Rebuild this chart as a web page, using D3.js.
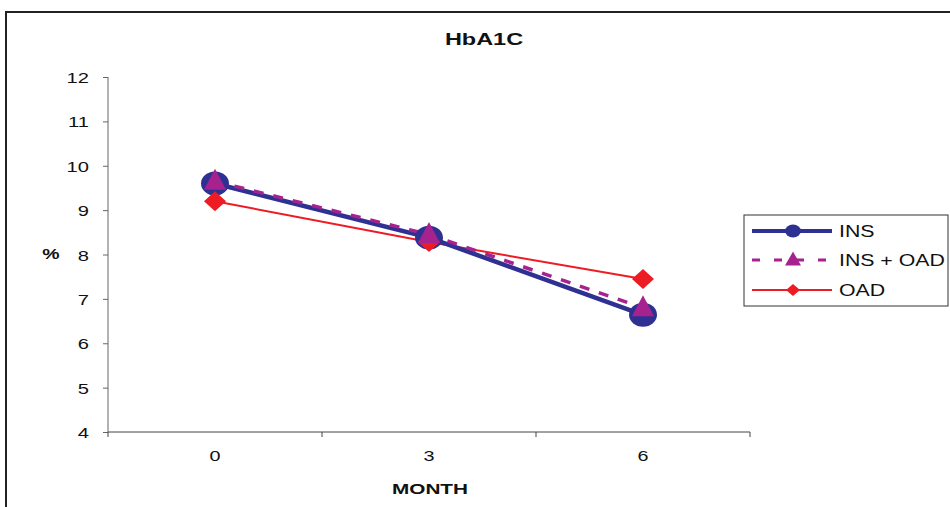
<!DOCTYPE html>
<html><head><meta charset="utf-8">
<script src="https://cdn.jsdelivr.net/npm/d3@7"></script>
<style>body{margin:0;background:#fff}svg{display:block;font-family:"Liberation Sans",Arial,sans-serif}</style>
</head><body><svg id="c" width="950" height="507"></svg>
<script>
const months = ["0","3","6"];
const yTicks = [4,5,6,7,8,9,10,11,12];
const insValues = [9.6, 8.38, 6.64];
const insOadValues = [9.65, 8.45, 6.8];
const oadValues = [9.2, 8.28, 7.45];
const seriesNames = ["INS","INS + OAD","OAD"];

const svg = d3.select("#c");
function stretch(sel, k){
  sel.each(function(){
    const w = this.getComputedTextLength();
    this.setAttribute("textLength", (w*k).toFixed(1));
    this.setAttribute("lengthAdjust","spacingAndGlyphs");
  });
}
// outer frame
svg.append("path").attr("d","M6,507 V12 H950").attr("fill","none").attr("stroke","#222").attr("stroke-width",2);

const x = d3.scaleBand().domain(months).range([108,750]).padding(0);
const y = d3.scaleLinear().domain([4,12]).range([432,77]);

const title = svg.append("text").attr("x",484).attr("y",45).attr("text-anchor","middle").attr("font-weight","bold").attr("font-size",17).attr("fill","#111").text("HbA1C");
stretch(title, 1.38);

const yAxis = svg.append("g").attr("transform","translate(108,0)")
  .call(d3.axisLeft(y).tickValues(yTicks).tickSize(5).tickPadding(14).tickFormat(d3.format("d")));
yAxis.select(".domain").attr("stroke","#666").attr("d","M0,77V432");
yAxis.selectAll("line").attr("stroke","#666");
yAxis.selectAll("text").attr("font-size",15.5).attr("fill","#111").attr("dy","0.36em").attr("font-family","Liberation Sans, Arial, sans-serif");
stretch(yAxis.selectAll("text"), 1.3);

const xAxis = svg.append("g").attr("transform","translate(0,432)")
  .call(d3.axisBottom(x).tickSize(0).tickPadding(18));
xAxis.select(".domain").attr("stroke","#444").attr("d","M108,0H750");
xAxis.selectAll("text").attr("font-size",15.5).attr("fill","#111").attr("y",29).attr("dy",0).attr("font-family","Liberation Sans, Arial, sans-serif");
stretch(xAxis.selectAll("text"), 1.28);
// boundary ticks between categories
const bounds = months.map(m => x(m)).concat([x(months[months.length-1]) + x.bandwidth()]);
svg.append("g").selectAll("line").data(bounds).join("line")
  .attr("x1",d=>d).attr("x2",d=>d).attr("y1",432).attr("y2",437).attr("stroke","#444");

const pct = svg.append("text").attr("x",51).attr("y",259).attr("text-anchor","middle").attr("font-weight","bold").attr("font-size",15).attr("fill","#111").text("%");
stretch(pct, 1.3);
const mlab = svg.append("text").attr("x",430).attr("y",494).attr("text-anchor","middle").attr("font-weight","bold").attr("font-size",14.5).attr("fill","#111").text("MONTH");
stretch(mlab, 1.43);

const cx = m => x(m) + x.bandwidth()/2;
const line = d3.line().x(d=>cx(d.m)).y(d=>y(d.v));
const mk = vals => months.map((m,i)=>({m, v: vals[i]}));

const navy = "#2E3192", purple = "#A6228F", red = "#ED1C24";

// OAD line
svg.append("path").datum(mk(oadValues)).attr("d",line).attr("fill","none").attr("stroke",red).attr("stroke-width",2);
// INS line
svg.append("path").datum(mk(insValues)).attr("d",line).attr("fill","none").attr("stroke",navy).attr("stroke-width",4.5);
// INS+OAD dashed
svg.append("path").datum(mk(insOadValues)).attr("d",line).attr("fill","none").attr("stroke",purple).attr("stroke-width",3.5).attr("stroke-dasharray","10,10");

function diamond(g, px, py, w, h, col){
  g.append("path").attr("d",`M${px-w},${py}L${px},${py-h}L${px+w},${py}L${px},${py+h}Z`).attr("fill",col);
}
function tri(g, px, py, w, h, col){
  g.append("path").attr("d",`M${px},${py-h*0.6}L${px+w},${py+h*0.4}L${px-w},${py+h*0.4}Z`).attr("fill",col);
}
const mg = svg.append("g");
mk(insValues).forEach(d=>mg.append("ellipse").attr("cx",cx(d.m)).attr("cy",y(d.v)).attr("rx",14).attr("ry",12).attr("fill",navy));
mk(oadValues).forEach(d=>diamond(mg,cx(d.m),y(d.v),11,10,red));
mk(insOadValues).forEach(d=>tri(mg,cx(d.m),y(d.v),11,21,purple));

// legend
const lg = svg.append("g");
lg.append("rect").attr("x",744).attr("y",215).attr("width",204).attr("height",91).attr("fill","#fff").attr("stroke","#333").attr("stroke-width",1);
const ly = [231,260,290];
lg.append("line").attr("x1",752).attr("x2",832).attr("y1",ly[0]).attr("y2",ly[0]).attr("stroke",navy).attr("stroke-width",4);
lg.append("ellipse").attr("cx",793).attr("cy",ly[0]).attr("rx",8).attr("ry",6.5).attr("fill",navy);
lg.append("line").attr("x1",752).attr("x2",832).attr("y1",ly[1]).attr("y2",ly[1]).attr("stroke",purple).attr("stroke-width",3).attr("stroke-dasharray","8,14");
tri(lg,793,ly[1],8,14,purple);
lg.append("line").attr("x1",752).attr("x2",832).attr("y1",ly[2]).attr("y2",ly[2]).attr("stroke",red).attr("stroke-width",2);
diamond(lg,793,ly[2],7,6,red);
const lt = lg.selectAll("text.lt").data(seriesNames).join("text").attr("class","lt")
  .attr("x",839).attr("y",(d,i)=>[237,266,296][i]).attr("font-size",16).attr("fill","#111").text(d=>d);
stretch(lt, 1.33);
</script></body></html>
